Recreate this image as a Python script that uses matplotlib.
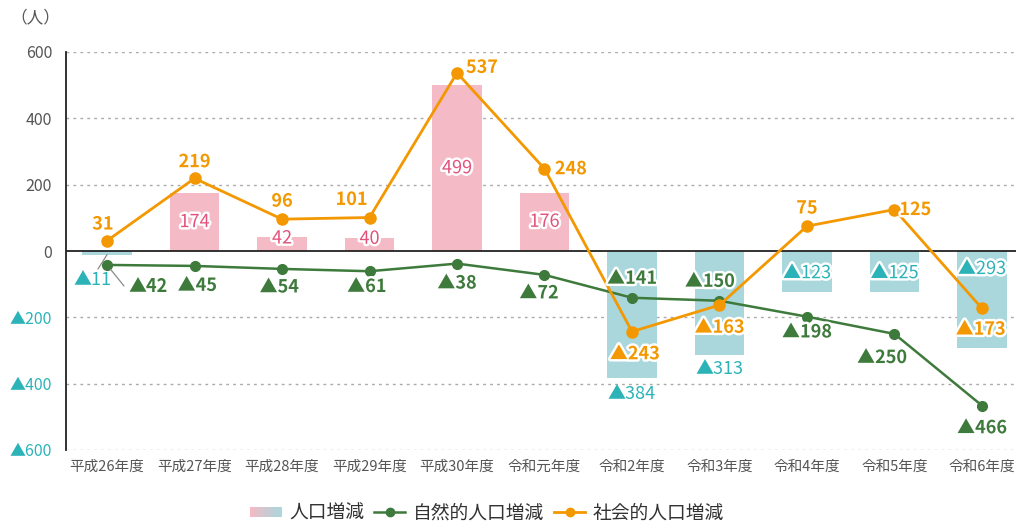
import numpy as np
import matplotlib
matplotlib.use('Agg')
import matplotlib.pyplot as plt
import matplotlib.patheffects as pe
from matplotlib.legend_handler import HandlerBase
from matplotlib.patches import Rectangle
from matplotlib.colors import to_rgb
from matplotlib.lines import Line2D

plt.rcParams['font.family'] = ['Noto Sans CJK JP', 'DejaVu Sans']

years = ['平成26年度', '平成27年度', '平成28年度', '平成29年度', '平成30年度', '令和元年度',
         '令和2年度', '令和3年度', '令和4年度', '令和5年度', '令和6年度']
total = [-11, 174, 42, 40, 499, 176, -384, -313, -123, -125, -293]
natural = [-42, -45, -54, -61, -38, -72, -141, -150, -198, -250, -466]
social = [31, 219, 96, 101, 537, 248, -243, -163, 75, 125, -173]

PINK = '#f4bac6'
BLUE = '#a9d7dc'
PINK_TXT = '#e2517c'
CYAN_TXT = '#2bb3b8'
GREEN = '#3d7a3b'
ORANGE = '#f39800'
GRAY = '#555555'


def fmt(v):
    return ('▲' + str(-v)) if v < 0 else str(v)


fig = plt.figure(figsize=(10.16, 5.22), dpi=100)
ax = fig.add_axes([66 / 1016, 72 / 522, 950 / 1016, 398 / 522])
x = np.arange(len(years))

ax.bar(x, total, width=0.57, color=[PINK if v > 0 else BLUE for v in total], zorder=2)
ax.plot(x, natural, color=GREEN, lw=1.8, marker='o', ms=7, zorder=4)
ax.plot(x, social, color=ORANGE, lw=2, marker='o', ms=8, zorder=5)

ax.set_xlim(-0.469, 10.389)
ax.set_ylim(-600, 600)
yt = [-600, -400, -200, 0, 200, 400, 600]
ax.set_yticks(yt)
ax.set_yticklabels([fmt(v) for v in yt])
for lab, v in zip(ax.get_yticklabels(), yt):
    lab.set_color(CYAN_TXT if v < 0 else GRAY)
ax.set_xticks(x)
ax.set_xticklabels(years, color=GRAY, fontsize=10.5)
ax.tick_params(axis='y', labelsize=11.5, length=0, pad=10)
ax.tick_params(axis='x', length=0, pad=7)
for y in [-600, -400, -200, 200, 400, 600]:
    ax.axhline(y, color='#aaaaaa', lw=1, ls=(0, (2, 3)), zorder=1)
ax.axhline(0, color='#222222', lw=1.3, zorder=3)
for s in ['top', 'right', 'bottom']:
    ax.spines[s].set_visible(False)
ax.spines['left'].set_color('#222222')
ax.spines['left'].set_linewidth(1.3)

fig.text(35 / 1016, 1 - 18 / 522, '（人）', color=GRAY, fontsize=12, ha='center', va='center')

stroke = [pe.withStroke(linewidth=3.5, foreground='white')]
leader = dict(arrowstyle='-', color='#8a8a8a', lw=0.9)


def label(i, v, dx, dy, color, size=13):
    ax.annotate(fmt(v), (i, v), xytext=(dx, dy), textcoords='offset points',
                ha='center', va='center', color=color, fontsize=size,
                fontweight='bold', path_effects=stroke, zorder=6)


# social labels (dx, dy in points)
soc_off = [(-3, 12), (0, 12), (0, 13), (-13, 13), (18, 4), (19, 0),
           (2, -16), (0, -16), (0, 13), (15, 0), (-1, -15)]
for i, (v, o) in enumerate(zip(social, soc_off)):
    label(i, v, o[0], o[1], ORANGE)

# natural labels
nat_off = [None, (2, -14), (-2, -13), (-2, -11), (0, -14), (-4, -13),
           (0, 14), (-7, 14), (0, -11), (-9, -17), (0, -16)]
for i, (v, o) in enumerate(zip(natural, nat_off)):
    if o is None:
        continue
    label(i, v, o[0], o[1], GREEN)

# first natural label sits off to the side with a leader line
ax.annotate('', (0, natural[0]), xytext=(124, 522 - 286), textcoords='figure pixels',
            arrowprops=dict(leader, shrinkA=0, shrinkB=4), zorder=5.5)
ax.annotate(fmt(natural[0]), (0, natural[0]), xytext=(148, 522 - 287),
            textcoords='figure pixels', ha='center', va='center', color=GREEN,
            fontsize=13, fontweight='bold', zorder=6)

# total (bar) labels
bar_dy = [0, 0, 4, 4, 0, 0, -11, -10, -16, -16, -13]
for i, (v, d) in enumerate(zip(total, bar_dy)):
    if v > 0:
        ax.annotate(fmt(v), (i, v / 2), xytext=(0, d), textcoords='offset points',
                    ha='center', va='center', color=PINK_TXT,
                    fontsize=13, path_effects=stroke, zorder=6)
    elif i == 0:
        ax.annotate(fmt(v), (i, v), xytext=(92, 522 - 280), textcoords='figure pixels',
                    ha='center', va='center', color=CYAN_TXT, fontsize=13, zorder=6)
        ax.annotate('', (i, v), xytext=(98, 522 - 269), textcoords='figure pixels',
                    arrowprops=dict(leader, shrinkA=0, shrinkB=0), zorder=3)
    elif v < -300:
        ax.annotate(fmt(v), (i, v), xytext=(0, d), textcoords='offset points',
                    ha='center', va='center', color=CYAN_TXT, fontsize=13, zorder=6)
    else:
        ax.annotate(fmt(v), (i, 0), xytext=(0, d), textcoords='offset points',
                    ha='center', va='center', color=CYAN_TXT, fontsize=13,
                    path_effects=stroke, zorder=6)


class GradHandler(HandlerBase):
    def create_artists(self, legend, orig, xd, yd, width, height, fontsize, trans):
        n = 20
        c1, c2 = np.array(to_rgb(PINK)), np.array(to_rgb(BLUE))
        arts = []
        for k in range(n):
            t = k / (n - 1)
            r = Rectangle((xd + width * k / n, yd + height * 0.1), width / n + 0.3, height * 0.75,
                          facecolor=c1 * (1 - t) + c2 * t, edgecolor='none', transform=trans)
            arts.append(r)
        return arts


grad_handle = Rectangle((0, 0), 1, 1)
handles = [grad_handle,
           Line2D([], [], color=GREEN, lw=1.8, marker='o', ms=6),
           Line2D([], [], color=ORANGE, lw=2, marker='o', ms=6)]
fig.legend(handles, ['人口増減', '自然的人口増減', '社会的人口増減'],
           handler_map={grad_handle: GradHandler()}, loc='center',
           bbox_to_anchor=(487 / 1016, 1 - 513 / 522), ncol=3, frameon=False,
           fontsize=13.5, handlelength=1.7, columnspacing=0.5, handletextpad=0.4,
           labelcolor='#333333')

fig.savefig('out.png', dpi=100)
